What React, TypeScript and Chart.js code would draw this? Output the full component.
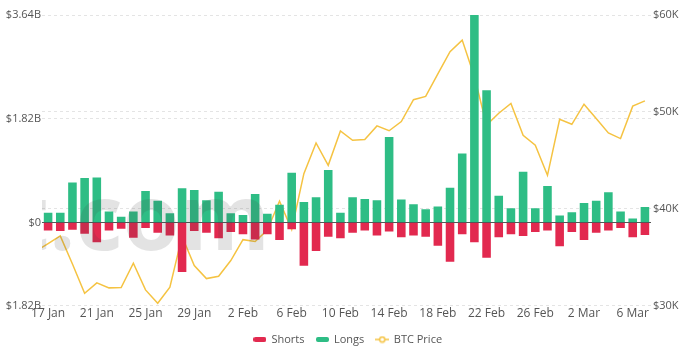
import React, { useEffect, useRef } from 'react';
import { Chart, registerables } from 'chart.js';

Chart.register(...registerables);

// Categories (16 Jan is the day before the visible window; only its price line segment peeks in at the left edge)
const categories = [
  '16 Jan', '17 Jan', '18 Jan', '19 Jan', '20 Jan', '21 Jan', '22 Jan', '23 Jan', '24 Jan', '25 Jan',
  '26 Jan', '27 Jan', '28 Jan', '29 Jan', '30 Jan', '31 Jan',
  '1 Feb', '2 Feb', '3 Feb', '4 Feb', '5 Feb', '6 Feb', '7 Feb', '8 Feb', '9 Feb', '10 Feb',
  '11 Feb', '12 Feb', '13 Feb', '14 Feb', '15 Feb', '16 Feb', '17 Feb', '18 Feb', '19 Feb', '20 Feb',
  '21 Feb', '22 Feb', '23 Feb', '24 Feb', '25 Feb', '26 Feb', '27 Feb', '28 Feb',
  '1 Mar', '2 Mar', '3 Mar', '4 Mar', '5 Mar', '6 Mar', '7 Mar',
];

// Liquidations in billions of USD
const shorts = [
  null,
  -0.14, -0.15, -0.13, -0.20, -0.35, -0.14, -0.11, -0.27, -0.10, -0.18,
  -0.23, -0.87, -0.15, -0.18, -0.28, -0.17, -0.21, -0.30, -0.21, -0.31,
  -0.12, -0.76, -0.50, -0.25, -0.28, -0.18, -0.14, -0.23, -0.16, -0.26,
  -0.23, -0.25, -0.41, -0.69, -0.21, -0.35, -0.62, -0.26, -0.21, -0.24,
  -0.17, -0.14, -0.42, -0.17, -0.31, -0.18, -0.14, -0.10, -0.26, -0.22,
];

const longs = [
  null,
  0.17, 0.17, 0.70, 0.78, 0.79, 0.19, 0.10, 0.19, 0.55, 0.38,
  0.16, 0.60, 0.57, 0.39, 0.54, 0.16, 0.13, 0.50, 0.15, 0.31,
  0.87, 0.36, 0.44, 0.92, 0.17, 0.44, 0.41, 0.39, 1.50, 0.40,
  0.32, 0.23, 0.28, 0.61, 1.21, 3.64, 2.32, 0.47, 0.25, 0.89,
  0.25, 0.64, 0.12, 0.18, 0.34, 0.38, 0.53, 0.19, 0.07, 0.27,
];

const btcPrice = [
  35600,
  36400, 37200, 34300, 31270, 32350, 31830, 31860, 34380, 31620, 30240,
  31890, 37140, 34140, 32790, 33030, 34650, 36810, 36620, 37810, 40790,
  37860, 43620, 46790, 44480, 48030, 47070, 47140, 48550, 48050, 49000,
  51250, 51590, 53920, 56220, 57410, 53620, 48650, 49860, 50870, 47590,
  46550, 43450, 49240, 48720, 50790, 49310, 47820, 47240, 50590, 51130,
];

const xTickLabels = [
  '17 Jan', '21 Jan', '25 Jan', '29 Jan', '2 Feb', '6 Feb', '10 Feb',
  '14 Feb', '18 Feb', '22 Feb', '26 Feb', '2 Mar', '6 Mar',
];

const leftTickValues = [-1.46, 0, 1.82, 3.64];
const leftTickLabels = ['$1.82B', '$0', '$1.82B', '$3.64B'];

const rightTickValues = [30000, 40000, 50000, 60000];
const rightTickLabels = ['$30K', '$40K', '$50K', '$60K'];

const seriesNames = ['Shorts', 'Longs', 'BTC Price'];

const RED = '#e2294f';
const GREEN = '#2ebd85';
const YELLOW = '#f5c342';
const GRID = '#e4e4e4';
const TEXT = '#555555';
const FONT = "'Open Sans', 'Noto Sans', sans-serif";

function makeBoxIcon(color: string): HTMLCanvasElement {
  const c = document.createElement('canvas');
  c.width = 13;
  c.height = 5;
  const g = c.getContext('2d')!;
  g.fillStyle = color;
  const r = 2;
  g.beginPath();
  g.moveTo(r, 0);
  g.lineTo(13 - r, 0);
  g.arcTo(13, 0, 13, r, r);
  g.lineTo(13, 5 - r);
  g.arcTo(13, 5, 13 - r, 5, r);
  g.lineTo(r, 5);
  g.arcTo(0, 5, 0, 5 - r, r);
  g.lineTo(0, r);
  g.arcTo(0, 0, r, 0, r);
  g.closePath();
  g.fill();
  return c;
}

function makeLineIcon(color: string): HTMLCanvasElement {
  const c = document.createElement('canvas');
  c.width = 14;
  c.height = 8;
  const g = c.getContext('2d')!;
  g.strokeStyle = color;
  g.lineWidth = 1.5;
  g.beginPath();
  g.moveTo(0, 4);
  g.lineTo(14, 4);
  g.stroke();
  g.beginPath();
  g.arc(7, 4, 2.6, 0, Math.PI * 2);
  g.fillStyle = '#ffffff';
  g.fill();
  g.stroke();
  return c;
}

const zeroLinePlugin = {
  id: 'zeroLine',
  afterDatasetDraw(chart: any, args: any) {
    if (args.index !== 1) return;
    const { ctx, chartArea, scales } = chart;
    const y = Math.round(scales.y.getPixelForValue(0)) + 0.5;
    ctx.save();
    ctx.strokeStyle = '#555555';
    ctx.lineWidth = 1;
    ctx.beginPath();
    ctx.moveTo(chartArea.left, y);
    ctx.lineTo(chartArea.right, y);
    ctx.stroke();
    ctx.restore();
  },
};

const watermarkPlugin = {
  id: 'watermark',
  afterDatasetsDraw(chart: any) {
    const { ctx, chartArea } = chart;
    ctx.save();
    ctx.beginPath();
    ctx.rect(chartArea.left, chartArea.top, chartArea.right - chartArea.left, chartArea.bottom - chartArea.top);
    ctx.clip();
    ctx.font = `bold 92px ${FONT}`;
    ctx.fillStyle = 'rgba(70,70,70,0.15)';
    ctx.textAlign = 'right';
    ctx.textBaseline = 'alphabetic';
    ctx.fillText('bybt.com', chartArea.left + 228, chartArea.top + 235);
    ctx.restore();
  },
};

const legendShiftPlugin = {
  id: 'legendShift',
  beforeDraw(chart: any) {
    const lg = chart.legend;
    if (lg && !lg.__shifted) {
      lg.left += 6;
      lg.right += 6;
      lg.__shifted = true;
    }
  },
};

export default function App() {
  const canvasRef = useRef<HTMLCanvasElement | null>(null);

  useEffect(() => {
    const canvas = canvasRef.current;
    if (!canvas) return;
    const icons = [makeBoxIcon(RED), makeBoxIcon(GREEN), makeLineIcon(YELLOW)];

    const chart = new Chart(canvas, {
      type: 'bar',
      data: {
        labels: categories,
        datasets: [
          {
            label: seriesNames[0],
            data: shorts,
            backgroundColor: RED,
            yAxisID: 'y',
            stack: 'liq',
            categoryPercentage: 0.8,
            barPercentage: 0.88,
          },
          {
            label: seriesNames[1],
            data: longs,
            backgroundColor: GREEN,
            yAxisID: 'y',
            stack: 'liq',
            categoryPercentage: 0.8,
            barPercentage: 0.88,
          },
          {
            type: 'line',
            label: seriesNames[2],
            data: btcPrice,
            borderColor: YELLOW,
            backgroundColor: YELLOW,
            borderWidth: 1.5,
            pointRadius: 0,
            pointHoverRadius: 0,
            tension: 0,
            yAxisID: 'y1',
          } as any,
        ],
      },
      options: {
        responsive: false,
        animation: false,
        layout: { padding: { top: 15, left: 0, right: 0, bottom: 0 } },
        plugins: {
          tooltip: { enabled: false },
          legend: {
            position: 'bottom',
            labels: {
              usePointStyle: true,
              pointStyleWidth: 12,
              padding: 12,
              color: TEXT,
              font: { family: FONT, size: 11 },
              generateLabels: () =>
                seriesNames.map((name, i) => ({
                  text: name,
                  fillStyle: [RED, GREEN, YELLOW][i],
                  strokeStyle: [RED, GREEN, YELLOW][i],
                  lineWidth: 0,
                  pointStyle: icons[i],
                  hidden: false,
                  datasetIndex: i,
                  fontColor: TEXT,
                })),
            },
          },
        },
        scales: {
          x: {
            type: 'category',
            min: '17 Jan',
            stacked: true,
            grid: { display: false, drawTicks: false },
            border: { display: false },
            ticks: {
              autoSkip: false,
              maxRotation: 0,
              minRotation: 0,
              padding: 1,
              color: TEXT,
              font: { family: FONT, size: 12 },
              callback: function (value: any) {
                const lbl = categories[value as number];
                return xTickLabels.includes(lbl) ? lbl : '';
              },
            },
          },
          y: {
            type: 'linear',
            position: 'left',
            stacked: true,
            min: leftTickValues[0],
            max: leftTickValues[leftTickValues.length - 1],
            afterBuildTicks: (scale: any) => {
              scale.ticks = leftTickValues.map((v) => ({ value: v }));
            },
            afterFit: (scale: any) => {
              scale.width = 42;
            },
            grid: {
              drawTicks: false,
              color: (ctx: any) => (ctx.tick && ctx.tick.value === 0 ? 'rgba(0,0,0,0)' : GRID),
              lineWidth: 1,
            },
            border: { display: false, dash: [3, 3] },
            ticks: {
              padding: 1,
              color: TEXT,
              font: { family: FONT, size: 11 },
              callback: (_v: any, i: number) => leftTickLabels[i],
            },
          },
          y1: {
            type: 'linear',
            position: 'right',
            min: rightTickValues[0],
            max: rightTickValues[rightTickValues.length - 1],
            afterBuildTicks: (scale: any) => {
              scale.ticks = rightTickValues.map((v) => ({ value: v }));
            },
            afterFit: (scale: any) => {
              scale.width = 33;
            },
            grid: { drawTicks: false, color: GRID, lineWidth: 1 },
            border: { display: false, dash: [3, 3] },
            ticks: {
              padding: 2,
              color: TEXT,
              font: { family: FONT, size: 11 },
              callback: (_v: any, i: number) => rightTickLabels[i],
            },
          },
        },
      },
      plugins: [zeroLinePlugin, watermarkPlugin, legendShiftPlugin],
    } as any);

    return () => {
      chart.destroy();
    };
  }, []);

  return (
    <div style={{ position: 'fixed', left: 0, top: 0, width: 684, height: 355, background: '#ffffff' }}>
      <canvas ref={canvasRef} width={684} height={355} style={{ display: 'block' }} />
    </div>
  );
}
